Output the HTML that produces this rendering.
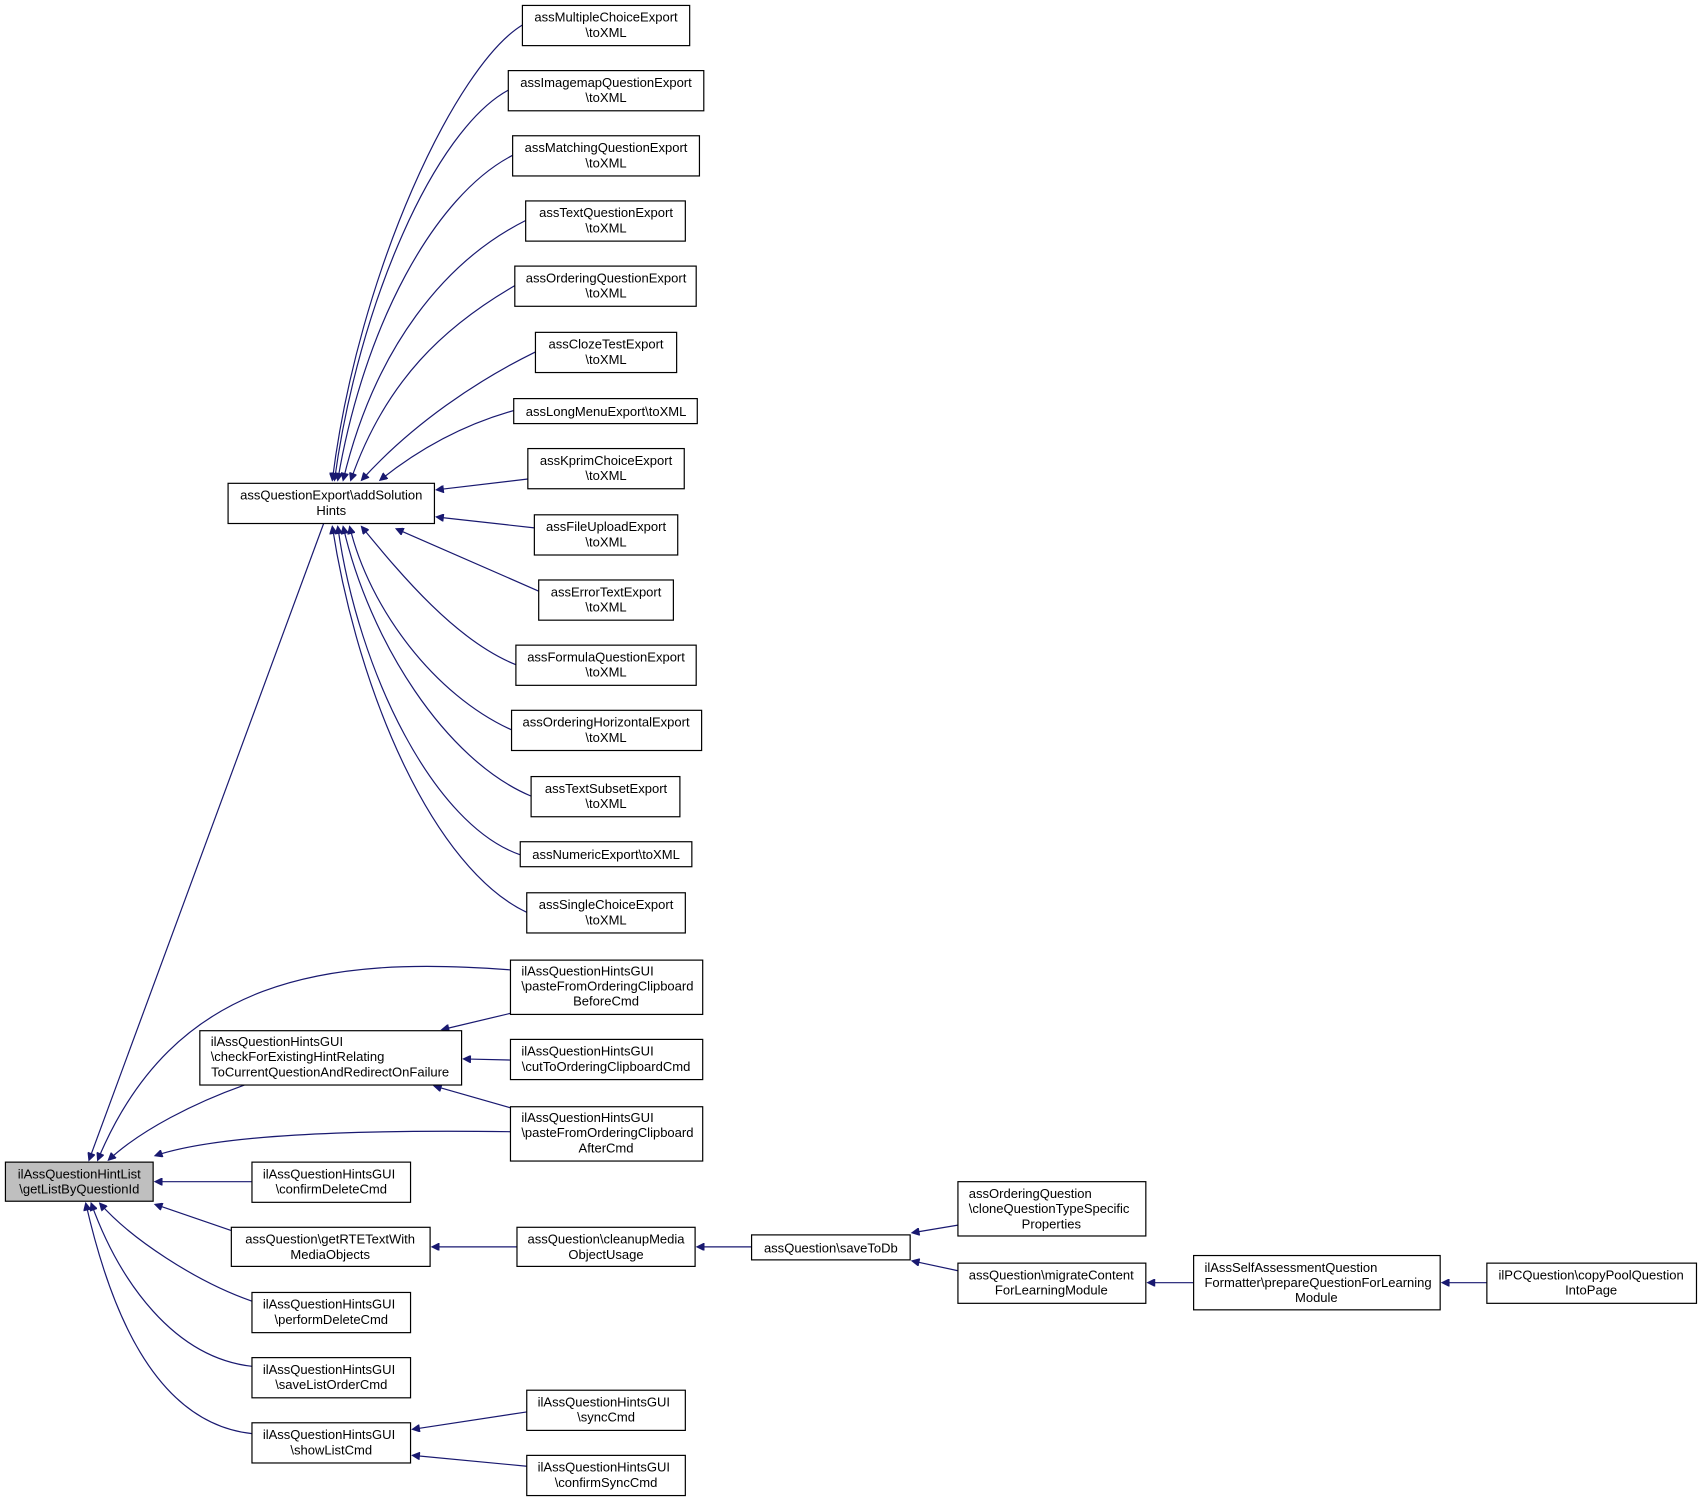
<!DOCTYPE html>
<html><head><meta charset="utf-8"><style>
html,body{margin:0;padding:0;background:#fff;}
svg{display:block;}
text{font-family:"Liberation Sans",Arial,sans-serif;font-size:12px;fill:#000;}
.b{fill:#fff;stroke:#000;stroke-width:1.1;}
.e{fill:none;stroke:#191970;stroke-width:1.1;}
</style></head><body>
<svg width="1703" height="1501" viewBox="0 0 1568 1382" xmlns="http://www.w3.org/2000/svg">
<defs><marker id="a" viewBox="0 0 10 10" refX="9" refY="5" markerWidth="10" markerHeight="7" markerUnits="userSpaceOnUse" orient="auto"><path d="M0,0 L10,5 L0,10 z" fill="#191970" stroke="#191970"/></marker></defs>
<g class="e" marker-end="url(#a)">
<path d="M481,23 C420,60 330,250 306,442"/>
<path d="M468,83 C400,120 330,280 308,442"/>
<path d="M472,143 C400,180 335,300 311,442"/>
<path d="M484,203 C410,240 345,320 316,442"/>
<path d="M474,263 C410,300 355,350 323,442"/>
<path d="M493,324 C440,350 380,390 333,442"/>
<path d="M473,378 C430,390 390,410 350,442"/>
<path d="M486,441 L402,451"/>
<path d="M492,486 L402,476"/>
<path d="M500,546 L365,487"/>
<path d="M475,612 C420,590 370,530 333,485"/>
<path d="M471,672 C400,640 340,560 322,485"/>
<path d="M489,733 C410,700 340,590 316,485"/>
<path d="M479,787 C400,760 330,620 311,485"/>
<path d="M485,840 C400,800 330,640 306,485"/>
<path d="M298,482 L82,1068"/>
<path d="M470,893 C300,880 160,900 90,1068"/>
<path d="M225,999 C180,1015 130,1040 100,1068"/>
<path d="M470,1042 C320,1040 200,1045 143,1064"/>
<path d="M232,1088 L143,1088"/>
<path d="M213,1133 L143,1109"/>
<path d="M232,1198 C180,1180 120,1140 92,1108"/>
<path d="M232,1258 C160,1250 110,1180 84,1108"/>
<path d="M232,1320 C140,1310 100,1200 79,1108"/>
<path d="M470,933 L407,948"/>
<path d="M470,976 L427,975"/>
<path d="M470,1020 L400,1000"/>
<path d="M476,1148 L398,1148"/>
<path d="M692,1148 L642,1148"/>
<path d="M882,1128 L840,1135"/>
<path d="M882,1170 L840,1161"/>
<path d="M1099,1181 L1057,1181"/>
<path d="M1369,1181 L1328,1181"/>
<path d="M485,1300 L380,1316"/>
<path d="M485,1350 L380,1340"/>
</g>
<g>
<rect class="b" x="5" y="1070" width="136" height="36" style="fill:#bfbfbf"/><text x="73" y="1085" text-anchor="middle">ilAssQuestionHintList</text><text x="73" y="1099" text-anchor="middle">\getListByQuestionId</text>
<rect class="b" x="210" y="445" width="190" height="37"/><text x="305" y="460" text-anchor="middle">assQuestionExport\addSolution</text><text x="305" y="474" text-anchor="middle">Hints</text>
<rect class="b" x="481" y="5" width="154" height="37"/><text x="558" y="20" text-anchor="middle">assMultipleChoiceExport</text><text x="558" y="34" text-anchor="middle">\toXML</text>
<rect class="b" x="468" y="65" width="180" height="37"/><text x="558" y="80" text-anchor="middle">assImagemapQuestionExport</text><text x="558" y="94" text-anchor="middle">\toXML</text>
<rect class="b" x="472" y="125" width="172" height="37"/><text x="558" y="140" text-anchor="middle">assMatchingQuestionExport</text><text x="558" y="154" text-anchor="middle">\toXML</text>
<rect class="b" x="484" y="185" width="147" height="37"/><text x="558" y="200" text-anchor="middle">assTextQuestionExport</text><text x="558" y="214" text-anchor="middle">\toXML</text>
<rect class="b" x="474" y="245" width="167" height="37"/><text x="558" y="260" text-anchor="middle">assOrderingQuestionExport</text><text x="558" y="274" text-anchor="middle">\toXML</text>
<rect class="b" x="493" y="306" width="130" height="37"/><text x="558" y="321" text-anchor="middle">assClozeTestExport</text><text x="558" y="335" text-anchor="middle">\toXML</text>
<rect class="b" x="473" y="367" width="169" height="23"/><text x="558" y="383" text-anchor="middle">assLongMenuExport\toXML</text>
<rect class="b" x="486" y="413" width="144" height="37"/><text x="558" y="428" text-anchor="middle">assKprimChoiceExport</text><text x="558" y="442" text-anchor="middle">\toXML</text>
<rect class="b" x="492" y="474" width="132" height="37"/><text x="558" y="489" text-anchor="middle">assFileUploadExport</text><text x="558" y="503" text-anchor="middle">\toXML</text>
<rect class="b" x="496" y="534" width="124" height="37"/><text x="558" y="549" text-anchor="middle">assErrorTextExport</text><text x="558" y="563" text-anchor="middle">\toXML</text>
<rect class="b" x="475" y="594" width="166" height="37"/><text x="558" y="609" text-anchor="middle">assFormulaQuestionExport</text><text x="558" y="623" text-anchor="middle">\toXML</text>
<rect class="b" x="471" y="654" width="175" height="37"/><text x="558" y="669" text-anchor="middle">assOrderingHorizontalExport</text><text x="558" y="683" text-anchor="middle">\toXML</text>
<rect class="b" x="489" y="715" width="137" height="37"/><text x="558" y="730" text-anchor="middle">assTextSubsetExport</text><text x="558" y="744" text-anchor="middle">\toXML</text>
<rect class="b" x="479" y="775" width="158" height="23"/><text x="558" y="791" text-anchor="middle">assNumericExport\toXML</text>
<rect class="b" x="485" y="822" width="146" height="37"/><text x="558" y="837" text-anchor="middle">assSingleChoiceExport</text><text x="558" y="851" text-anchor="middle">\toXML</text>
<rect class="b" x="470" y="884" width="177" height="50"/><text x="480" y="898">ilAssQuestionHintsGUI</text><text x="480" y="912">\pasteFromOrderingClipboard</text><text x="558" y="926" text-anchor="middle">BeforeCmd</text>
<rect class="b" x="184" y="949" width="241" height="50"/><text x="194" y="963">ilAssQuestionHintsGUI</text><text x="194" y="977">\checkForExistingHintRelating</text><text x="304" y="991" text-anchor="middle">ToCurrentQuestionAndRedirectOnFailure</text>
<rect class="b" x="470" y="957" width="177" height="37"/><text x="480" y="972">ilAssQuestionHintsGUI</text><text x="558" y="986" text-anchor="middle">\cutToOrderingClipboardCmd</text>
<rect class="b" x="470" y="1019" width="177" height="50"/><text x="480" y="1033">ilAssQuestionHintsGUI</text><text x="480" y="1047">\pasteFromOrderingClipboard</text><text x="558" y="1061" text-anchor="middle">AfterCmd</text>
<rect class="b" x="232" y="1070" width="146" height="37"/><text x="242" y="1085">ilAssQuestionHintsGUI</text><text x="305" y="1099" text-anchor="middle">\confirmDeleteCmd</text>
<rect class="b" x="213" y="1130" width="183" height="36"/><text x="304" y="1145" text-anchor="middle">assQuestion\getRTETextWith</text><text x="304" y="1159" text-anchor="middle">MediaObjects</text>
<rect class="b" x="476" y="1130" width="164" height="36"/><text x="558" y="1145" text-anchor="middle">assQuestion\cleanupMedia</text><text x="558" y="1159" text-anchor="middle">ObjectUsage</text>
<rect class="b" x="692" y="1137" width="146" height="23"/><text x="765" y="1153" text-anchor="middle">assQuestion\saveToDb</text>
<rect class="b" x="882" y="1088" width="173" height="50"/><text x="892" y="1103">assOrderingQuestion</text><text x="892" y="1117">\cloneQuestionTypeSpecific</text><text x="968" y="1131" text-anchor="middle">Properties</text>
<rect class="b" x="882" y="1163" width="173" height="37"/><text x="892" y="1178">assQuestion\migrateContent</text><text x="968" y="1192" text-anchor="middle">ForLearningModule</text>
<rect class="b" x="1099" y="1156" width="227" height="50"/><text x="1109" y="1171">ilAssSelfAssessmentQuestion</text><text x="1109" y="1185">Formatter\prepareQuestionForLearning</text><text x="1212" y="1199" text-anchor="middle">Module</text>
<rect class="b" x="1369" y="1163" width="193" height="37"/><text x="1465" y="1178" text-anchor="middle">ilPCQuestion\copyPoolQuestion</text><text x="1465" y="1192" text-anchor="middle">IntoPage</text>
<rect class="b" x="232" y="1190" width="146" height="37"/><text x="242" y="1205">ilAssQuestionHintsGUI</text><text x="305" y="1219" text-anchor="middle">\performDeleteCmd</text>
<rect class="b" x="232" y="1250" width="146" height="37"/><text x="242" y="1265">ilAssQuestionHintsGUI</text><text x="305" y="1279" text-anchor="middle">\saveListOrderCmd</text>
<rect class="b" x="232" y="1310" width="146" height="37"/><text x="242" y="1325">ilAssQuestionHintsGUI</text><text x="305" y="1339" text-anchor="middle">\showListCmd</text>
<rect class="b" x="485" y="1280" width="146" height="37"/><text x="495" y="1295">ilAssQuestionHintsGUI</text><text x="558" y="1309" text-anchor="middle">\syncCmd</text>
<rect class="b" x="485" y="1340" width="146" height="37"/><text x="495" y="1355">ilAssQuestionHintsGUI</text><text x="558" y="1369" text-anchor="middle">\confirmSyncCmd</text>
</g>
</svg>
</body></html>
